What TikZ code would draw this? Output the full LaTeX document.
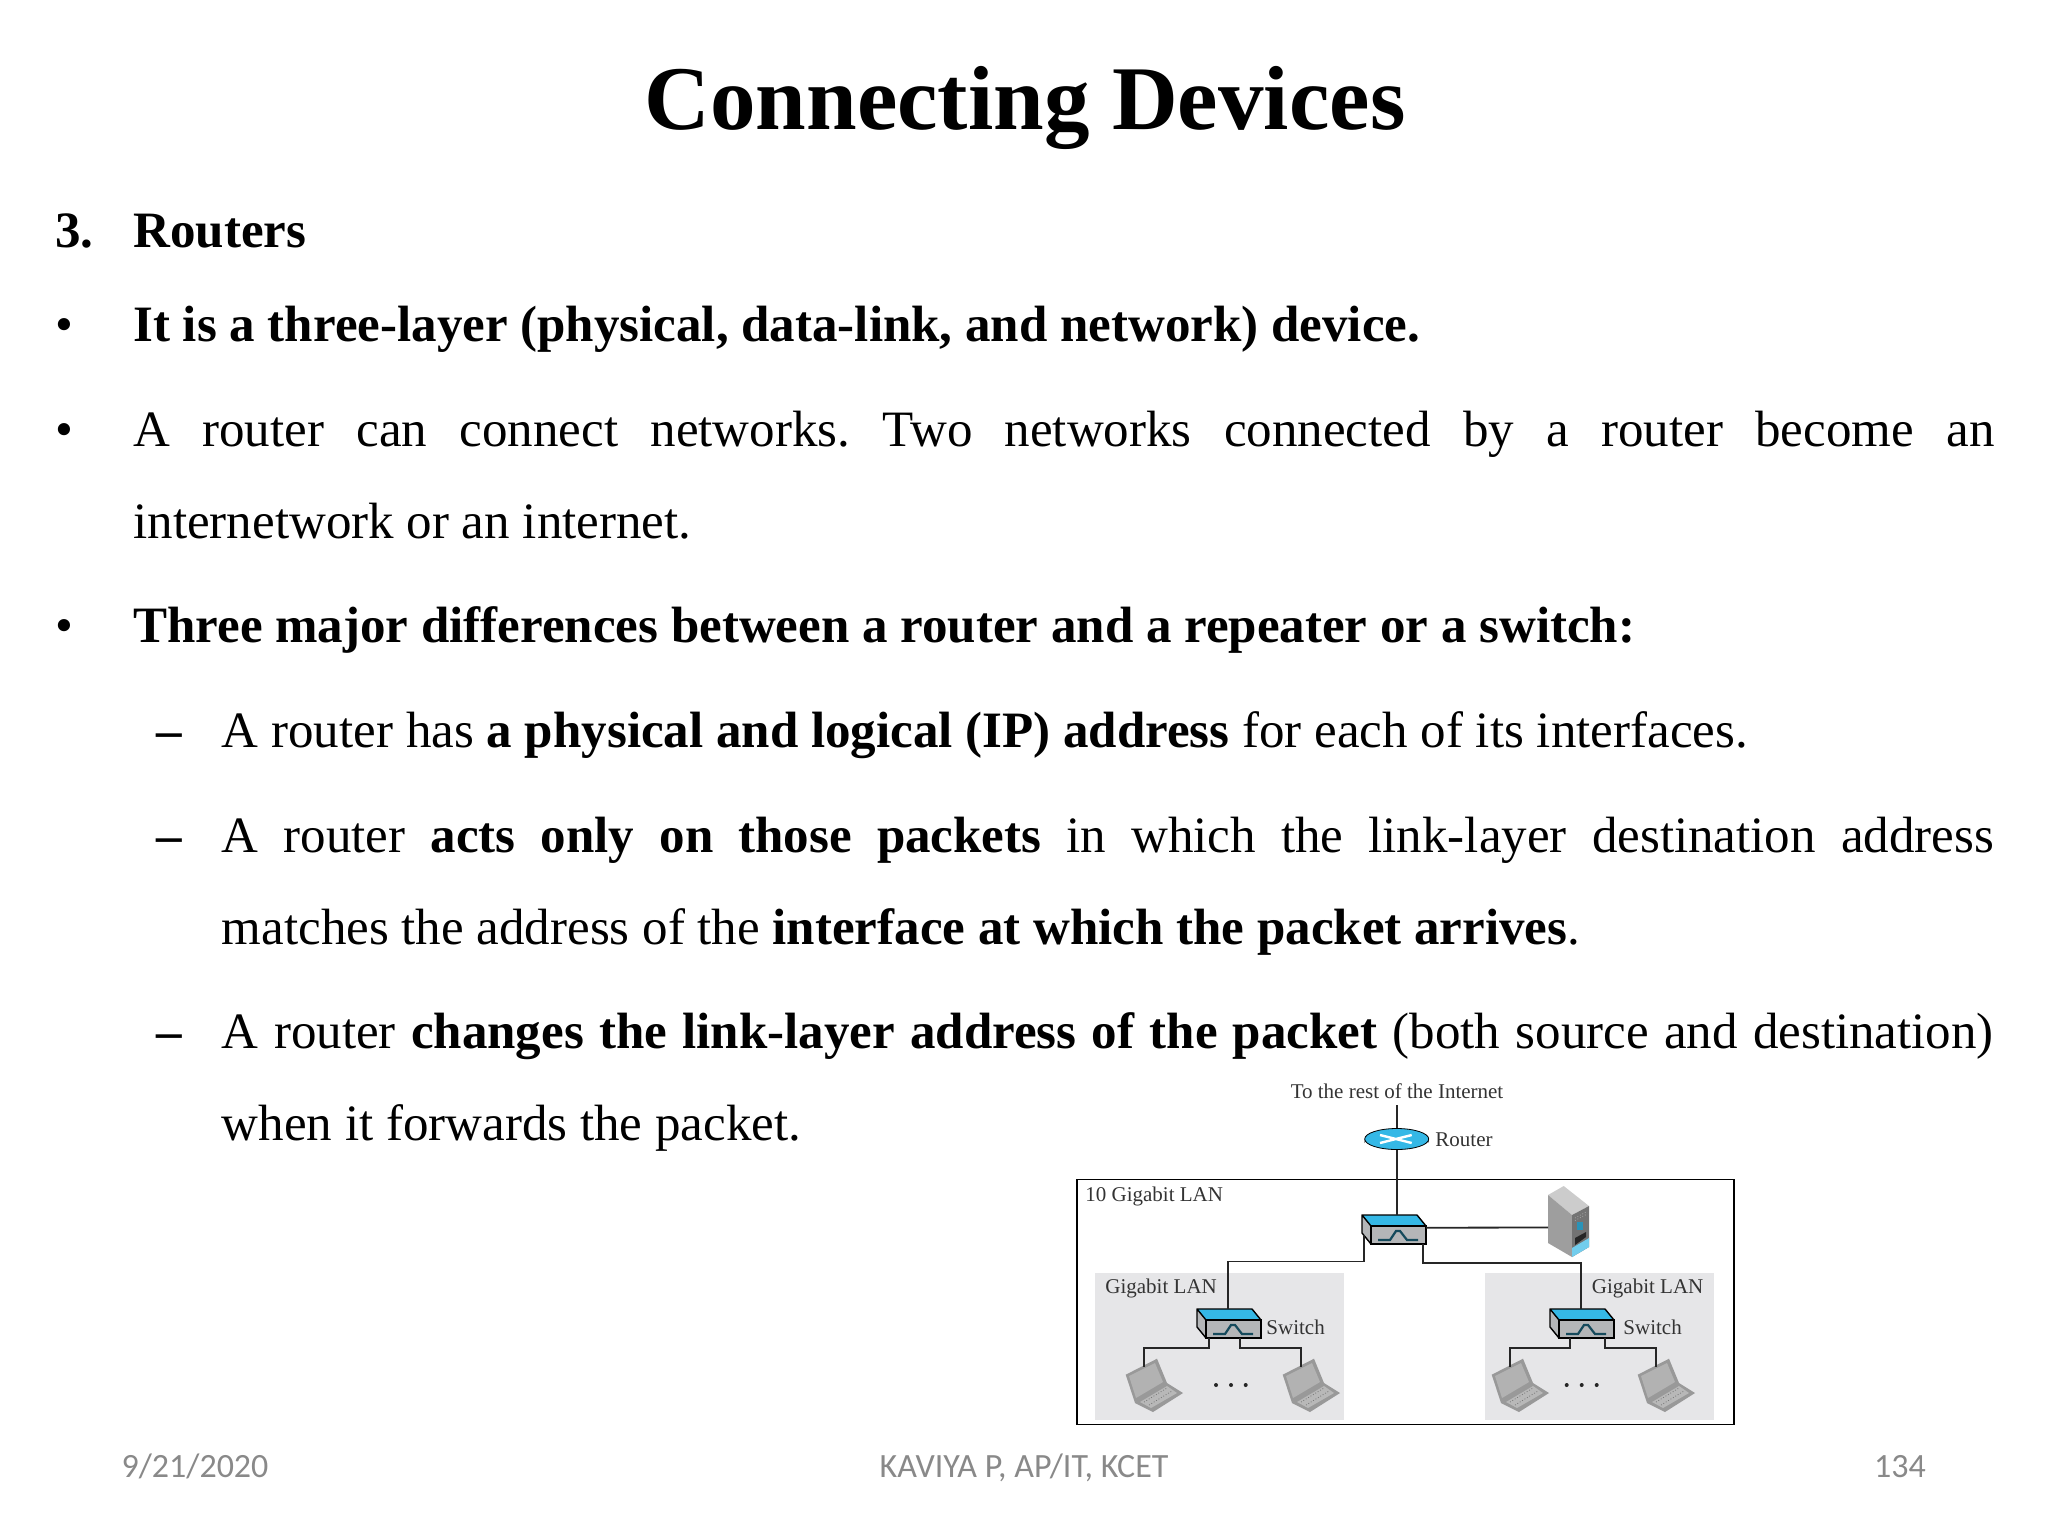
\documentclass[tikz,border=0pt]{standalone}
\usepackage{fontspec}
\setmainfont{Liberation Serif}
\newfontfamily\footfont{Carlito}
\usetikzlibrary{positioning,shapes.geometric}
\definecolor{lanblue}{HTML}{35B8E6}
\definecolor{langrey}{HTML}{E6E6E8}
\definecolor{boxgrey}{HTML}{B4B6B8}
\definecolor{footgrey}{HTML}{898989}
\frenchspacing
\tikzset{
	switchbox/.pic={
		\fill[boxgrey] (-9,-11) -- (0,0) -- (0,18) -- (-9,7) -- cycle;
		\fill[lanblue] (-9,-11) -- (46,-11) -- (55,0) -- (0,0) -- cycle;
		\fill[boxgrey] (0,0) rectangle (55,18);
		\draw[line width=0.7pt,line join=round] (-9,-11) -- (46,-11) -- (55,0) -- (0,0) -- cycle (-9,-11) -- (-9,7) -- (0,18) -- (0,0);
		\draw[line width=0.8pt] (0,0) rectangle (55,18);
		\draw[line width=1.1pt,color=lanblue!40!black] (7,14) -- (19,14) -- (25,5) -- (29,5) -- (36,14) -- (47,14);
	},
	laptopbox/.pic={
		\fill[black!40] (0.7,16.7) -- (32,0.7) -- (42,25) -- (58,35) -- (28,54) -- (10,45) -- cycle;
		\fill[black!30] (4,18) -- (30,5) -- (38,24) -- (11,40) -- cycle;
		\fill[black!28] (15,44) -- (42,28) -- (52,35) -- (26,50) -- cycle;
		\draw[black!55,densely dotted] (19,44) -- (42,30) (24,47) -- (47,33);
		\coordinate (-top) at (19,9);
	},
	serverbox/.pic={
		\fill[black!20] (0,9) -- (15.7,0) -- (41,20) -- (24,29) -- cycle;
		\fill[black!38] (0,9) -- (24,29) -- (24,71) -- (0,57) -- cycle;
		\fill[black!55] (24,29) -- (41,20) -- (41,61) -- (24,71) -- cycle;
		\fill[lanblue!70!white] (24,62) -- (41,52) -- (41,61) -- (24,71) -- cycle;
		\fill[lanblue!80!black] (29,36) rectangle (35,44);
		\fill[black!85] (27,52) -- (38,46) -- (38,51) -- (27,59) -- cycle;
		\draw[black!35,densely dotted] (27,32) -- (38,26) (27,34.5) -- (38,28.5);
		\coordinate (-west) at (0,41.5);
	},
}
\begin{document}
\begin{tikzpicture}[x=0.5pt, y=-0.5pt]
	\tikzstyle{every node}=[inner sep=0pt]
	\tikzstyle{slidetext}=[anchor=base west,font=\fontsize{25.5}{46}\selectfont]
	\tikzstyle{paratext}=[slidetext,align=justify]
	\tikzstyle{figtext}=[font=\fontsize{10.5}{10.5}\selectfont,text=black!80]
	\tikzstyle{foottext}=[anchor=base,font=\footfont\fontsize{17}{17}\selectfont,text=footgrey]
	\tikzstyle{lanbox}=[fill=langrey,anchor=north west,minimum height=73.5pt]
	\tikzstyle{wire}=[line width=0.9pt,black!85]
	\useasboundingbox (0,0) rectangle (2048,1536);

	\node[anchor=base,font=\bfseries\fontsize{45.5}{45.5}\selectfont] (title) at (1025,129) {Connecting Devices};

	\node[slidetext] (num) at (55,247) {\textbf{3.}};
	\node[slidetext] (head) at (133,247) {\textbf{Routers}};
	\node[slidetext] (bulA) at (55,341.5) {•};
	\node[slidetext] (lineA) at (133,341.5) {\textbf{It is a three-layer (physical, data-link, and network) device.}};
	\node[slidetext] (bulB) at (55,446) {•};
	\node[paratext,text width=930.5pt] (lineB) at (133,446) {A router can connect networks. Two networks connected by a router become an\linebreak internetwork or an internet.};
	\node[slidetext] (bulC) at (55,642) {•};
	\node[slidetext] (lineC) at (133,642) {\textbf{Three major differences between a router and a repeater or a switch:}};
	\node[slidetext] (dashA) at (156,747) {\textbf{–}};
	\node[slidetext] (lineD) at (221.5,747) {A router has \textbf{a physical and logical (IP) address} for each of its interfaces.};
	\node[slidetext] (dashB) at (156,852) {\textbf{–}};
	\node[paratext,text width=886pt] (lineE) at (221.5,852) {A router \textbf{acts only on those packets} in which the link-layer destination address\linebreak matches the address of the \textbf{interface at which the packet arrives}.};
	\node[slidetext] (dashC) at (156,1048) {\textbf{–}};
	\node[paratext,text width=886pt] (lineF) at (221.5,1048) {A router \textbf{changes the link-layer address of the packet} (both source and destination)\linebreak when it forwards the packet.};

	% the network figure
	\node[lanbox,minimum width=124.5pt] (gigboxA) at (1095,1273) {};
	\node[lanbox,minimum width=114.5pt] (gigboxB) at (1485,1273) {};
	\node[draw,line width=0.8pt,minimum width=328.5pt,minimum height=122.5pt,anchor=north west] (tenbox) at (1076,1178.5) {};
	\node[figtext,anchor=base] (inet) at (1397,1098) {To the rest of the Internet};
	\node[figtext,anchor=base west] (routerlbl) at (1435,1146.5) {Router};
	\node[figtext,anchor=base west] (tengig) at (1085,1201) {10 Gigabit LAN};
	\node[figtext,anchor=base west] (gigA) at (1105,1293) {Gigabit LAN};
	\node[figtext,anchor=base west] (gigB) at (1591.5,1293) {Gigabit LAN};
	\node[figtext,anchor=base west] (swlblA) at (1266,1334) {Switch};
	\node[figtext,anchor=base west] (swlblB) at (1623,1334) {Switch};

	\coordinate (inetEnd) at (1396.7,1105);
	\coordinate (portCt) at (1396.7,1215);
	\coordinate (portCl) at (1364,1235);
	\coordinate (portCr) at (1423.3,1244);
	\coordinate (portCe) at (1426,1227.7);
	\coordinate (portLt) at (1227.7,1309);
	\coordinate (portLa) at (1208.7,1338);
	\coordinate (portLb) at (1240.3,1338);
	\coordinate (portRt) at (1581,1309);
	\coordinate (portRa) at (1569.7,1338);
	\coordinate (portRb) at (1605.3,1338);

	\fill[black] (1364.7,1143) arc (180:360:32 and 10.3) -- (1428.7,1139) -- (1364.7,1139) -- cycle;
	\node[ellipse,fill=lanblue,draw=black,line width=0.4pt,minimum width=32pt,minimum height=10.5pt] (router) at (1396.7,1139) {};
	\draw[white,line width=1.2pt] (1380,1135) -- (1411.7,1143) (1380,1143) -- (1411.7,1135);

	\pic (swC) at (1371,1226) {switchbox};
	\pic (swL) at (1206,1320) {switchbox};
	\pic (swR) at (1559,1320) {switchbox};
	\pic (lapA) at (1125,1358) {laptopbox};
	\pic (lapB) at (1282,1358) {laptopbox};
	\pic (lapC) at (1491,1358) {laptopbox};
	\pic (lapD) at (1637,1358) {laptopbox};
	\pic (srv) at (1548,1186) {serverbox};

	\path[draw,wire] (inetEnd) -- (router.north);
	\path[draw,wire] (router.south) -- (portCt);
	\path[draw,wire] (portCe) -- (srv-west);
	\path[draw,wire] (portCl) |- (1340,1261.5) -| (portLt);
	\path[draw,wire] (portCr) |- (1500,1263) -| (portRt);
	\path[draw,wire] (portLa) |- (1180,1348.3) -| (lapA-top);
	\path[draw,wire] (portLb) |- (1280,1348.3) -| (lapB-top);
	\path[draw,wire] (portRa) |- (1540,1348.3) -| (lapC-top);
	\path[draw,wire] (portRb) |- (1630,1348.3) -| (lapD-top);

	\foreach \i/\x in {a/1216,b/1231,c/1245.7,d/1566.7,e/1581.7,f/1596.7}
		\fill[black!85] (\x,1385) circle (1pt);

	\node[foottext] (date) at (195,1477) {9/21/2020};
	\node[foottext] (author) at (1024,1477) {KAVIYA P, AP/IT, KCET};
	\node[foottext] (page) at (1900,1477) {134};
\end{tikzpicture}
\end{document}
